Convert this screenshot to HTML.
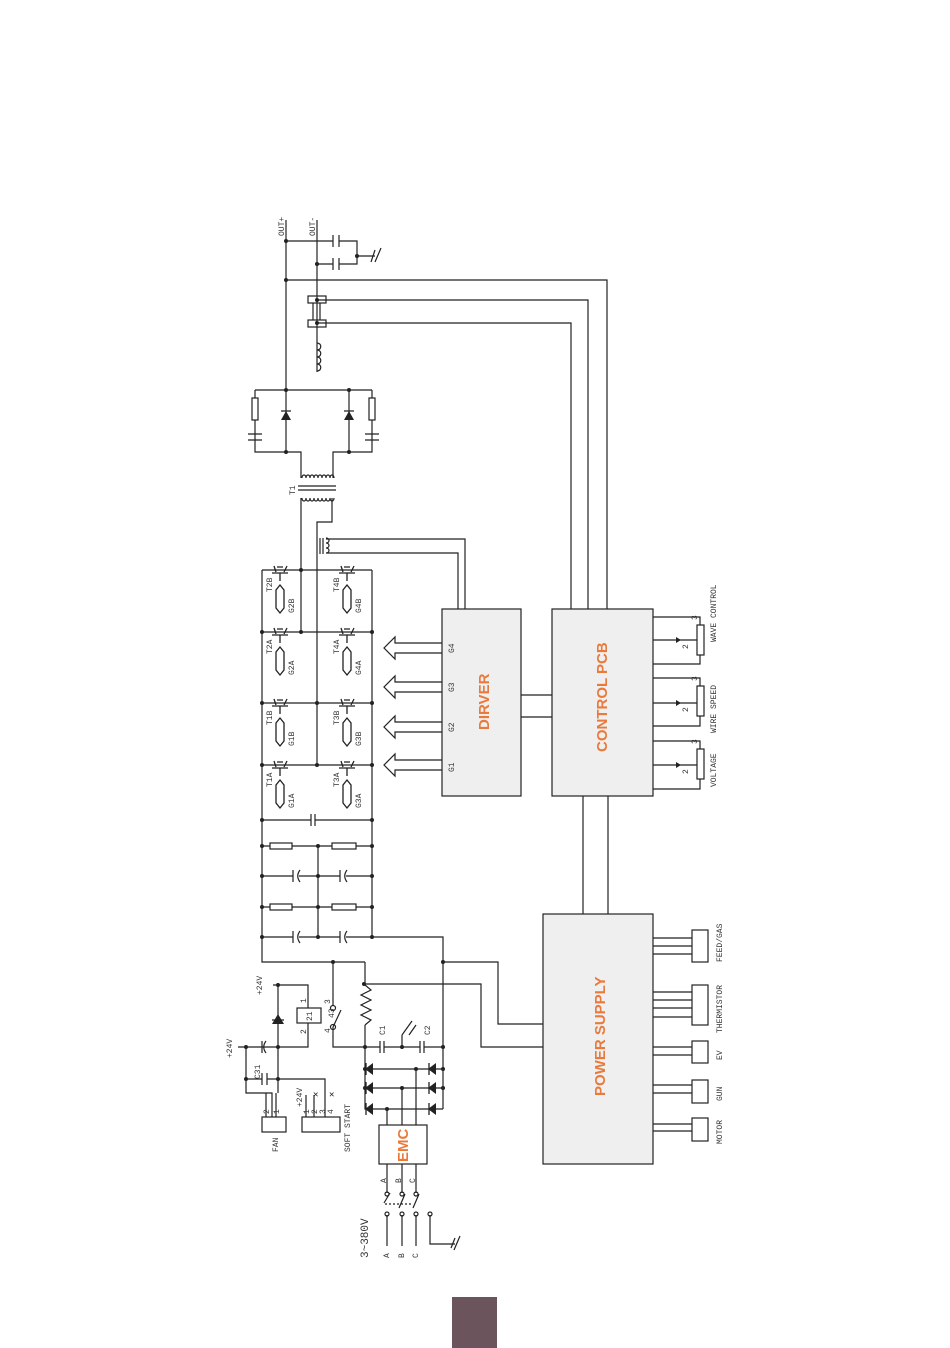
<!DOCTYPE html>
<html><head><meta charset="utf-8"><style>
html,body{margin:0;padding:0;background:#fff;}
svg{display:block;}
text{font-family:"Liberation Mono",monospace;font-size:8px;fill:#333;}
.o{font-family:"Liberation Sans",sans-serif;font-weight:bold;fill:#ea7a3c;font-size:15px;}
</style></head><body>
<svg width="950" height="1348" viewBox="0 0 950 1348" xmlns="http://www.w3.org/2000/svg">
<g stroke="#222" stroke-width="1.2" fill="none">
<path d="M286 220V452M317 220V372M286 241H333M339 241H357V264H339M333 264H317M357 256H375"/>
<path d="M333 235v12M339 235v12M333 258v12M339 258v12"/>
<path d="M375 250l-4 12M381 248l-6 14"/>
<path d="M286 280H607V609M317 300H588V609M317 323H571V609"/>
<rect x="308" y="296" width="18" height="7"/><rect x="308" y="320" width="18" height="7"/>
<path d="M313 303v17M320 303v17"/>
<path d="M317 343c5 0 5 7 0 7c5 0 5 7 0 7c5 0 5 7 0 7c5 0 5 7 0 7"/>
<path d="M255 390H372M255 390V398M255 420V452H301V478M372 390V398M372 420V452H333V478M349 390V452M255 420V434M255 440V452M372 434V440"/>
<rect x="252" y="398" width="6" height="22"/><rect x="369" y="398" width="6" height="22"/>
<path d="M248 434h14M248 440h14M365 434h14M365 440h14"/>
<path d="M281 411h10M344 411h10"/>
<path d="M302 478c0-4 4-4 4 0c0-4 4-4 4 0c0-4 4-4 4 0c0-4 4-4 4 0c0-4 4-4 4 0c0-4 4-4 4 0c0-4 4-4 4 0c0-4 4-4 4 0"/>
<path d="M298 486H336M298 490H336"/>
<path d="M302 498c0 4 4 4 4 0c0 4 4 4 4 0c0 4 4 4 4 0c0 4 4 4 4 0c0 4 4 4 4 0c0 4 4 4 4 0c0 4 4 4 4 0c0 4 4 4 4 0"/>
<path d="M301 498V632M332 498V522H317V765"/>
<path d="M320 538v16M323 538v16M326 538c4 0 4 5 0 5c4 0 4 5 0 5c4 0 4 5 0 5M326 539H465V609M326 553H458V609"/>
<path d="M262 570V962H365M372 570V937H443V1109M262 570H372M262 632H372M262 703H372M262 765H372M262 820H311M315 820H372M311 814v12M315 814v12"/>
<path d="M262 846H270M292 846H332M356 846H372M262 907H270M292 907H332M356 907H372M318 846V937"/>
<rect x="270" y="843" width="22" height="6"/><rect x="332" y="843" width="24" height="6"/>
<rect x="270" y="904" width="22" height="6"/><rect x="332" y="904" width="24" height="6"/>
<path d="M262 876H293M299 876H340M346 876H372M262 937H293M299 937H340M346 937H372M293 870v12M340 870v12M300 870c-3 4-3 8 0 12M347 870c-3 4-3 8 0 12M300 931c-3 4-3 8 0 12M347 931c-3 4-3 8 0 12M293 931v12M340 931v12"/>
<rect x="442" y="609" width="79" height="187" fill="#efefef"/>
<rect x="552" y="609" width="101" height="187" fill="#efefef"/>
<rect x="543" y="914" width="110" height="250" fill="#efefef"/>
<rect x="379" y="1125" width="48" height="39" fill="#fff"/>
<path d="M521 695H552M521 717H552M583 796V914M608 796V914"/>
<path d="M442 643H395V637L384 648L395 659V653H442M442 682H395V676L384 687L395 698V692H442M442 722H395V716L384 727L395 738V732H442M442 760H395V754L384 765L395 776V770H442"/>
<path d="M653 617H700V625M700 655V664H653M653 640H697M653 678H700V686M700 716V726H653M653 703H697M653 741H700V749M700 779V789H653M653 765H697"/>
<rect x="697" y="625" width="7" height="30"/><rect x="697" y="686" width="7" height="30"/><rect x="697" y="749" width="7" height="30"/>
<path d="M653 938H692M653 946H692M653 954H692M653 992H692M653 1000H692M653 1008H692M653 1017H692M653 1047H692M653 1055H692M653 1085H692M653 1093H692M653 1124H692M653 1131H692"/>
<rect x="692" y="930" width="16" height="32"/><rect x="692" y="985" width="16" height="40"/><rect x="692" y="1041" width="16" height="22"/><rect x="692" y="1080" width="16" height="23"/><rect x="692" y="1118" width="16" height="23"/>
<path d="M443 962H498V1024H543M364 984H481V1047H543"/>
<path d="M365 962V985M365 1025V1109H443M365 985l6 5l-10 5l10 5l-10 5l10 5l-10 5l10 5l-6 5"/>
<path d="M365 1047H380M384 1047H402M402 1035V1047H420M424 1047H443M380 1041v12M384 1041v12M420 1041v12M424 1041v12M402 1035l10-14M409 1035l7-10"/>
<path d="M365 1069H443M365 1088H443M387 1109V1125M402 1088V1125M416 1069V1125"/>
<path d="M333 962V1005M333 1027V1047H365M333 1027l8-17"/>
<circle cx="333" cy="1008" r="2.5"/><circle cx="333" cy="1027" r="2.5"/>
<path d="M273 985H308V1008M308 1023V1047H238M278 985V1093M272 1020h12"/>
<rect x="297" y="1008" width="24" height="15"/>
<path d="M246 1047V1093H272V1117M262 1041v12M266 1041c-3 4-3 8 0 12M246 1079H262M267 1079H325V1117M262 1073v12M267 1073v12M266 1093V1117M276 1093V1117"/>
<rect x="262" y="1117" width="24" height="15"/><rect x="302" y="1117" width="38" height="15"/>
<path d="M306 1095V1117M314 1095V1117"/>
<path d="M387 1164V1193M402 1164V1193M416 1164V1193M387 1215V1246M402 1215V1246M416 1215V1246M430 1215V1244H455M384 1203l6-10M399 1208l6-14M413 1208l6-14"/>
<path d="M385 1204H413" stroke-dasharray="2 2"/>
<path d="M455 1238l-4 10M460 1236l-6 14"/>
<circle cx="387" cy="1194" r="2"/><circle cx="402" cy="1194" r="2"/><circle cx="416" cy="1194" r="2"/>
<circle cx="387" cy="1214" r="2"/><circle cx="402" cy="1214" r="2"/><circle cx="416" cy="1214" r="2"/><circle cx="430" cy="1214" r="2"/>
</g>
<g fill="#222">
<path d="M281 420h10l-5-9z M344 420h10l-5-9z M272 1024h12l-6-10z"/>
<path d="M373 1063v12l-8-6z M436 1063v12l-8-6z M373 1082v12l-8-6z M436 1082v12l-8-6z M373 1103v12l-8-6z M436 1103v12l-8-6z"/>
<path d="M681 640l-5-3v6z M681 703l-5-3v6z M681 765l-5-3v6z"/>
<circle cx="286" cy="241" r="2"/><circle cx="317" cy="264" r="2"/><circle cx="357" cy="256" r="2"/><circle cx="286" cy="280" r="2"/>
<circle cx="317" cy="300" r="2"/><circle cx="317" cy="323" r="2"/>
<circle cx="286" cy="390" r="2"/><circle cx="349" cy="390" r="2"/><circle cx="286" cy="452" r="2"/><circle cx="349" cy="452" r="2"/>
<circle cx="301" cy="570" r="2"/><circle cx="301" cy="632" r="2"/><circle cx="262" cy="632" r="2"/><circle cx="372" cy="632" r="2"/>
<circle cx="262" cy="703" r="2"/><circle cx="317" cy="703" r="2"/><circle cx="372" cy="703" r="2"/>
<circle cx="262" cy="765" r="2"/><circle cx="317" cy="765" r="2"/><circle cx="372" cy="765" r="2"/>
<circle cx="262" cy="820" r="2"/><circle cx="372" cy="820" r="2"/>
<circle cx="262" cy="846" r="2"/><circle cx="318" cy="846" r="2"/><circle cx="372" cy="846" r="2"/>
<circle cx="262" cy="876" r="2"/><circle cx="318" cy="876" r="2"/><circle cx="372" cy="876" r="2"/>
<circle cx="262" cy="907" r="2"/><circle cx="318" cy="907" r="2"/><circle cx="372" cy="907" r="2"/>
<circle cx="262" cy="937" r="2"/><circle cx="318" cy="937" r="2"/><circle cx="372" cy="937" r="2"/>
<circle cx="443" cy="962" r="2"/><circle cx="333" cy="962" r="2"/><circle cx="364" cy="984" r="2"/>
<circle cx="278" cy="985" r="2"/><circle cx="278" cy="1047" r="2"/><circle cx="246" cy="1047" r="2"/><circle cx="246" cy="1079" r="2"/><circle cx="278" cy="1079" r="2"/>
<circle cx="365" cy="1047" r="2"/><circle cx="402" cy="1047" r="2"/><circle cx="443" cy="1047" r="2"/>
<circle cx="365" cy="1069" r="2"/><circle cx="443" cy="1069" r="2"/><circle cx="416" cy="1069" r="2"/>
<circle cx="365" cy="1088" r="2"/><circle cx="443" cy="1088" r="2"/><circle cx="402" cy="1088" r="2"/><circle cx="387" cy="1109" r="2"/>
</g>
<g stroke="#222" stroke-width="1.3" fill="none">
<path d="M366 1063v12M429 1063v12M366 1082v12M429 1082v12M366 1103v12M429 1103v12"/>
<g id="ig">
<path d="M272 573h16M280 573v8M276 572l-2-6M284 572l3-6M277 567h6"/>
<path d="M280 585l-4 5v18l4 5l4-5v-18z"/>
</g>
<use href="#ig" y="62"/><use href="#ig" y="133"/><use href="#ig" y="195"/>
<use href="#ig" x="67"/><use href="#ig" x="67" y="62"/><use href="#ig" x="67" y="133"/><use href="#ig" x="67" y="195"/>
</g>
<g>
<text transform="translate(284,236) rotate(-90)">OUT+</text>
<text transform="translate(315,236) rotate(-90)">OUT-</text>
<text transform="translate(295,495) rotate(-90)">T1</text>
<text transform="translate(272,592) rotate(-90)">T2B</text><text transform="translate(294,613) rotate(-90)">G2B</text>
<text transform="translate(339,592) rotate(-90)">T4B</text><text transform="translate(361,613) rotate(-90)">G4B</text>
<text transform="translate(272,654) rotate(-90)">T2A</text><text transform="translate(294,675) rotate(-90)">G2A</text>
<text transform="translate(339,654) rotate(-90)">T4A</text><text transform="translate(361,675) rotate(-90)">G4A</text>
<text transform="translate(272,725) rotate(-90)">T1B</text><text transform="translate(294,746) rotate(-90)">G1B</text>
<text transform="translate(339,725) rotate(-90)">T3B</text><text transform="translate(361,746) rotate(-90)">G3B</text>
<text transform="translate(272,787) rotate(-90)">T1A</text><text transform="translate(294,808) rotate(-90)">G1A</text>
<text transform="translate(339,787) rotate(-90)">T3A</text><text transform="translate(361,808) rotate(-90)">G3A</text>
<text transform="translate(454,653) rotate(-90)">G4</text><text transform="translate(454,692) rotate(-90)">G3</text>
<text transform="translate(454,732) rotate(-90)">G2</text><text transform="translate(454,772) rotate(-90)">G1</text>
<text class="o" transform="translate(489,730) rotate(-90)">DIRVER</text>
<text class="o" transform="translate(607,752) rotate(-90)">CONTROL PCB</text>
<text class="o" transform="translate(605,1096) rotate(-90)">POWER SUPPLY</text>
<text class="o" transform="translate(408,1162) rotate(-90)">EMC</text>
<text transform="translate(716,642) rotate(-90)">WAVE CONTROL</text>
<text transform="translate(716,733) rotate(-90)">WIRE SPEED</text>
<text transform="translate(716,787) rotate(-90)">VOLTAGE</text>
<text transform="translate(697,620) rotate(-90)">3</text><text transform="translate(697,681) rotate(-90)">3</text><text transform="translate(697,744) rotate(-90)">3</text>
<text transform="translate(688,649) rotate(-90)">2</text><text transform="translate(688,712) rotate(-90)">2</text><text transform="translate(688,774) rotate(-90)">2</text>
<text transform="translate(722,962) rotate(-90)">FEED/GAS</text>
<text transform="translate(722,1033) rotate(-90)">THERMISTOR</text>
<text transform="translate(722,1060) rotate(-90)">EV</text>
<text transform="translate(722,1101) rotate(-90)">GUN</text>
<text transform="translate(722,1144) rotate(-90)">MOTOR</text>
<text transform="translate(232,1058) rotate(-90)">+24V</text>
<text transform="translate(262,995) rotate(-90)">+24V</text>
<text transform="translate(302,1107) rotate(-90)">+24V</text>
<text transform="translate(260,1079) rotate(-90)">C31</text>
<text transform="translate(312,1021) rotate(-90)">21</text>
<text transform="translate(306,1003) rotate(-90)">1</text><text transform="translate(306,1034) rotate(-90)">2</text>
<text transform="translate(330,1004) rotate(-90)">3</text><text transform="translate(330,1033) rotate(-90)">4</text><text transform="translate(334,1018) rotate(-90)">43</text>
<text transform="translate(385,1035) rotate(-90)">C1</text><text transform="translate(430,1035) rotate(-90)">C2</text>
<text transform="translate(278,1152) rotate(-90)">FAN</text>
<text transform="translate(350,1152) rotate(-90)">SOFT START</text>
<text transform="translate(269,1114) rotate(-90)">2</text><text transform="translate(279,1114) rotate(-90)">1</text>
<text transform="translate(309,1114) rotate(-90)">1</text><text transform="translate(317,1114) rotate(-90)">2</text><text transform="translate(325,1114) rotate(-90)">3</text><text transform="translate(333,1114) rotate(-90)">4</text>
<text transform="translate(386,1183) rotate(-90)">A</text><text transform="translate(401,1183) rotate(-90)">B</text><text transform="translate(415,1183) rotate(-90)">C</text>
<text transform="translate(389,1258) rotate(-90)">A</text><text transform="translate(404,1258) rotate(-90)">B</text><text transform="translate(418,1258) rotate(-90)">C</text>
<text style="font-size:11px" transform="translate(368,1258) rotate(-90)">3~380V</text>
<text style="font-size:9px;fill:#222" x="329" y="1097">✕</text><text style="font-size:9px;fill:#222" x="313" y="1097">✕</text>
</g>
<rect x="452" y="1297" width="45" height="51" fill="#6b545b"/>
</svg>
</body></html>
